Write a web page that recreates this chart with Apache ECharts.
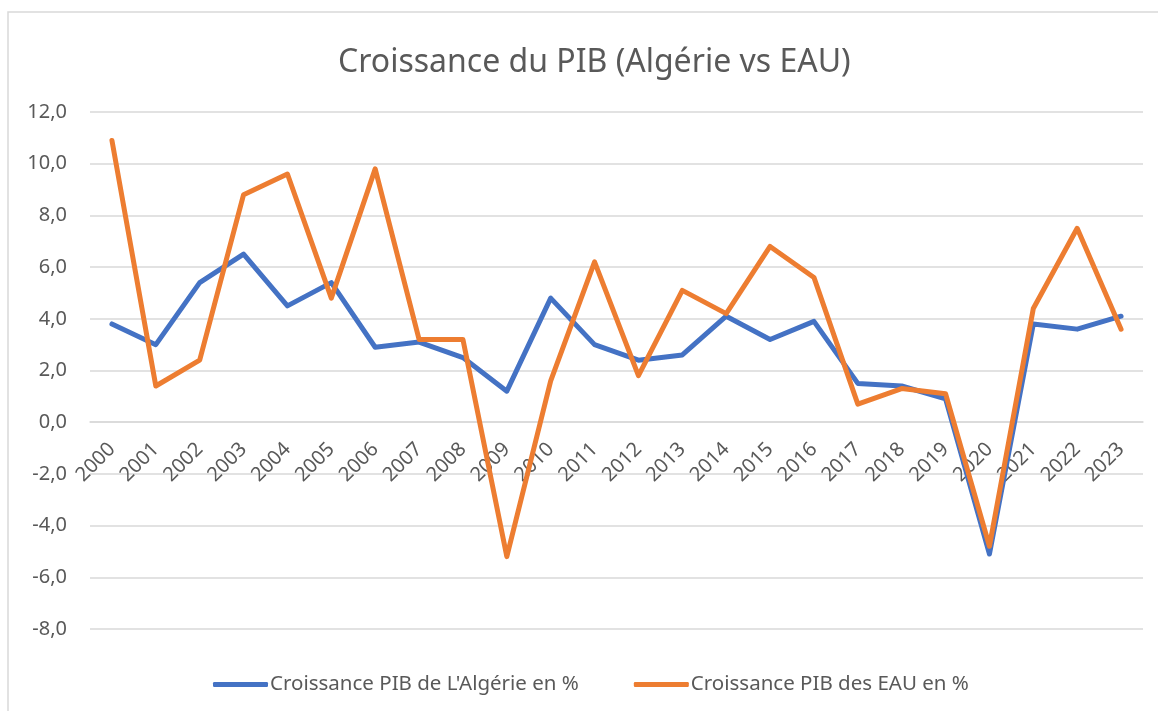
<!DOCTYPE html>
<html>
<head>
<meta charset="utf-8">
<script src="https://cdn.jsdelivr.net/npm/echarts@6/dist/echarts.min.js"></script>
<style>
  html, body { margin: 0; padding: 0; background: #fff; }
  #chart { width: 1158px; height: 711px; }
</style>
</head>
<body>
<div id="chart"></div>
<script>
const years = ["2000", "2001", "2002", "2003", "2004", "2005", "2006", "2007",
  "2008", "2009", "2010", "2011", "2012", "2013", "2014", "2015", "2016",
  "2017", "2018", "2019", "2020", "2021", "2022", "2023"];
const algerie = [3.8, 3.0, 5.4, 6.5, 4.5, 5.4, 2.9, 3.1, 2.5, 1.2, 4.8, 3.0,
  2.4, 2.6, 4.1, 3.2, 3.9, 1.5, 1.4, 0.9, -5.1, 3.8, 3.6, 4.1];
const eau = [10.9, 1.4, 2.4, 8.8, 9.6, 4.8, 9.8, 3.2, 3.2, -5.2, 1.6, 6.2,
  1.8, 5.1, 4.2, 6.8, 5.6, 0.7, 1.3, 1.1, -4.8, 4.4, 7.5, 3.6];
const seriesNames = ["Croissance PIB de L'Algérie en %", "Croissance PIB des EAU en %"];
const yTicks = { min: -8, max: 12, step: 2 };

const txt = "#595959";
const font = "'Noto Sans', 'Open Sans', sans-serif";

// zone de tracé
const gridTop = 112;
const gridBottom = 82;
const plotH = 711 - gridTop - gridBottom;
// l'axe des catégories croise l'axe des valeurs à 0 (comme dans Excel)
const zeroOffset = plotH * (0 - yTicks.min) / (yTicks.max - yTicks.min);

const chart = echarts.init(document.getElementById("chart"));
chart.setOption({
  animation: false,
  color: ["#4472C4", "#ED7D31"],
  title: {
    text: "Croissance du PIB (Algérie vs EAU)",
    left: 333,
    top: 42,
    textStyle: { color: txt, fontFamily: font, fontSize: 32, fontWeight: "normal" },
  },
  // cadre du graphique
  graphic: [
    {
      type: "rect",
      shape: { x: 8, y: 12, width: 1170, height: 720 },
      style: { fill: "none", stroke: "#d9d9d9", lineWidth: 1.5 },
      silent: true,
    },
  ],
  legend: {
    top: 669,
    left: 208,
    itemWidth: 55,
    itemHeight: 5,
    itemGap: 55,
    icon: "roundRect",
    textStyle: { color: txt, fontFamily: font, fontSize: 20.5, padding: [0, 0, 0, -3] },
  },
  grid: { left: 90, right: 15, top: gridTop, bottom: gridBottom },
  xAxis: {
    type: "category",
    data: years,
    offset: -zeroOffset,
    axisLine: { onZero: false, lineStyle: { color: "#d9d9d9", width: 1.5 } },
    axisTick: { show: false },
    axisLabel: { rotate: 45, color: txt, fontFamily: font, fontSize: 20, margin: 24 },
  },
  yAxis: {
    type: "value",
    min: yTicks.min,
    max: yTicks.max,
    interval: yTicks.step,
    axisLine: { show: false },
    axisTick: { show: false },
    splitLine: { lineStyle: { color: "#d9d9d9", width: 1.5 } },
    axisLabel: {
      color: txt,
      fontFamily: font,
      fontSize: 20,
      margin: 23,
      formatter: (v) => v.toFixed(1).replace(".", ","),
    },
  },
  series: [
    {
      name: seriesNames[0],
      type: "line",
      data: algerie,
      showSymbol: false,
      lineStyle: { width: 5, cap: "round", join: "round" },
    },
    {
      name: seriesNames[1],
      type: "line",
      data: eau,
      showSymbol: false,
      lineStyle: { width: 5, cap: "round", join: "round" },
    },
  ],
});
</script>
</body>
</html>
